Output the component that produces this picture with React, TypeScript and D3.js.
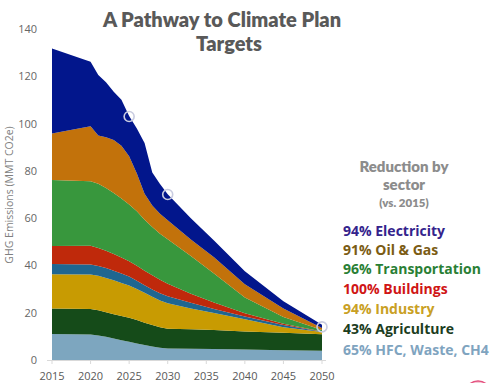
import React from 'react';
import * as d3 from 'd3';

const years = [2015, 2020, 2021, 2022, 2023, 2024, 2025, 2026, 2027, 2028, 2029, 2030, 2033, 2036, 2040, 2045, 2050];
const hfcWaste = [11.0, 10.8, 10.4, 9.8, 9.1, 8.4, 7.7, 7.0, 6.3, 5.7, 5.2, 4.9, 4.8, 4.6, 4.4, 4.1, 3.9];
const agriculture = [10.8, 10.8, 10.6, 10.4, 10.3, 10.2, 10.2, 9.9, 9.5, 9.1, 8.7, 8.3, 8.2, 8.1, 7.7, 7.4, 7.0];
const industry = [14.5, 14.6, 14.6, 14.5, 14.3, 14.0, 13.6, 13.1, 12.6, 12.0, 11.3, 10.8, 8.8, 7.2, 5.1, 2.3, 0.9];
const otherSector = [4.3, 4.2, 4.2, 4.2, 4.1, 4.0, 3.8, 3.5, 3.2, 3.0, 3.0, 3.0, 2.4, 1.7, 1.2, 1.0, 0.2];
const buildings = [7.6, 7.9, 7.6, 7.3, 7.0, 6.8, 6.5, 6.4, 6.2, 6.0, 5.7, 5.3, 3.8, 2.7, 1.4, 0.5, 0.1];
const transportation = [27.9, 27.3, 27.1, 26.6, 25.8, 24.9, 24.0, 23.0, 21.5, 20.5, 19.5, 18.8, 16.0, 12.3, 6.6, 2.9, 0.6];
const oilGas = [19.7, 23.3, 20.5, 21.4, 22.4, 22.3, 20.4, 16.0, 11.0, 9.0, 8.5, 8.0, 7.0, 6.9, 5.6, 3.6, 0.8];
const electricity = [35.9, 27.3, 25.5, 23.3, 20.5, 19.5, 17.0, 19.0, 21.5, 14.0, 12.5, 11.0, 9.0, 7.0, 5.5, 3.0, 1.4];

const sectorKeys = ['hfcWaste', 'agriculture', 'industry', 'otherSector', 'buildings', 'transportation', 'oilGas', 'electricity'];
const sectorSeries = [hfcWaste, agriculture, industry, otherSector, buildings, transportation, oilGas, electricity];

const xTicks = [2015, 2020, 2025, 2030, 2035, 2040, 2045, 2050];
const yTicks = [0, 20, 40, 60, 80, 100, 120, 140];

const targetYears = [2025, 2030, 2050];
const targetValues = [103, 70, 14];

const legendLabels = ['94% Electricity', '91% Oil & Gas', '96% Transportation', '100% Buildings', '94% Industry', '43% Agriculture', '65% HFC, Waste, CH4'];

const fillColors: Record<string, string> = {
  hfcWaste: '#7DA6BF',
  agriculture: '#154B19',
  industry: '#C89B02',
  otherSector: '#1F6690',
  buildings: '#BF290B',
  transportation: '#38973D',
  oilGas: '#C2720B',
  electricity: '#02168C',
};
const legendColors = ['#34238C', '#7B5C14', '#2A7F35', '#D01515', '#C9A024', '#1C3D1E', '#7FA4BF'];

export default function App() {
  const x = d3.scaleLinear().domain([2015, 2050]).range([52, 322]);
  const y = d3.scaleLinear().domain([0, 140]).range([360, 29]);

  const rows = years.map((yr, i) => {
    const r: any = { year: yr };
    sectorKeys.forEach((k, j) => (r[k] = sectorSeries[j][i]));
    return r;
  });
  const stacked = d3.stack<any>().keys(sectorKeys)(rows);
  const area = d3
    .area<any>()
    .x((d) => x(d.data.year))
    .y0((d) => y(d[0]))
    .y1((d) => y(d[1]))
    .curve(d3.curveLinear);

  const legendY = [236, 255, 274, 294, 314, 334, 355];

  return (
    <svg width={497} height={383} style={{ position: 'absolute', left: 0, top: 0, background: '#fff' }}>
      <rect x={0} y={0} width={497} height={383} fill="#fff" />
      <g fontFamily="Lato, 'Open Sans', sans-serif" fontWeight={800} fill="#595959" textAnchor="middle">
        <text x={222} y={27} fontSize={20}>A Pathway to Climate Plan</text>
        <text x={229} y={51} fontSize={20}>Targets</text>
      </g>
      {stacked.map((s) => (
        <path key={s.key} d={area(s) || ''} fill={fillColors[s.key]} />
      ))}
      <line x1={47} x2={326} y1={360.5} y2={360.5} stroke="#D9D9D9" strokeWidth={1} />
      {xTicks.map((t) => (
        <g key={t}>
          <line x1={x(t)} x2={x(t)} y1={360.5} y2={364} stroke="#D9D9D9" />
          <text x={x(t)} y={380} fontSize={11} fill="#595959" textAnchor="middle" fontFamily="'Open Sans', sans-serif">
            {t}
          </text>
        </g>
      ))}
      {yTicks.map((t) => (
        <text key={t} x={37} y={y(t) + 4} fontSize={11} fill="#666666" textAnchor="end" fontFamily="'Open Sans', sans-serif">
          {t}
        </text>
      ))}
      <text
        transform="translate(13,195) rotate(-90)"
        fontSize={10.5}
        fill="#7F7F7F"
        textAnchor="middle"
        fontFamily="'Open Sans', sans-serif"
      >
        GHG Emissions (MMT CO2e)
      </text>
      {targetYears.map((t, i) => (
        <circle key={t} cx={x(t)} cy={y(targetValues[i])} r={5} fill="none" stroke="#C9CCE0" strokeWidth={1.6} />
      ))}
      <g fontFamily="Lato, 'Open Sans', sans-serif" fontWeight={800} textAnchor="middle" fill="#8C8C8C">
        <text x={404} y={172} fontSize={15}>Reduction by</text>
        <text x={404} y={190} fontSize={15}>sector</text>
        <text x={404} y={206.5} fontSize={11.5}>(vs. 2015)</text>
      </g>
      <g fontFamily="'Open Sans', sans-serif" fontWeight={700} fontSize={14}>
        {legendLabels.map((l, i) => (
          <text key={l} x={343} y={legendY[i]} fill={legendColors[i]}>
            {l}
          </text>
        ))}
      </g>
      <circle cx={478} cy={394} r={13} fill="#F6C9D6" stroke="#E4507E" strokeWidth={1.5} />
    </svg>
  );
}
